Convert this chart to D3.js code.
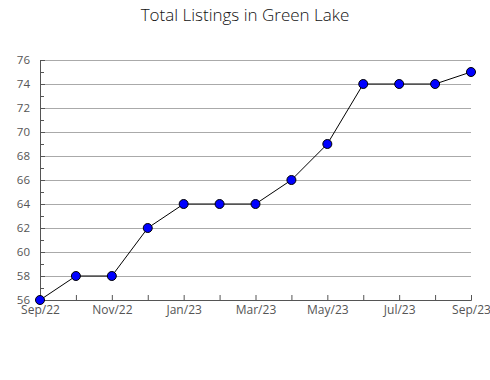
<!DOCTYPE html>
<html>
<head>
<meta charset="utf-8">
<script src="https://cdn.jsdelivr.net/npm/d3@7"></script>
<style>
  body { margin: 0; background: #fff; }
  text { font-family: "Open Sans", "Noto Sans", sans-serif; }
</style>
</head>
<body>
<svg id="chart"></svg>
<script>
const months = ['Sep/22','Oct/22','Nov/22','Dec/22','Jan/23','Feb/23','Mar/23','Apr/23','May/23','Jun/23','Jul/23','Aug/23','Sep/23'];
const listings = [56, 58, 58, 62, 64, 64, 64, 66, 69, 74, 74, 74, 75];
const yTicks = [56, 58, 60, 62, 64, 66, 68, 70, 72, 74, 76];
const yMinor = [57, 59, 61, 63, 65, 67, 69, 71, 73, 75];

const width = 490, height = 380;
const mLeft = 40, mRight = 471, mTop = 60, mBottom = 300;

const svg = d3.select('#chart').attr('width', width).attr('height', height)

const x = d3.scaleLinear().domain([0, months.length - 1]).range([mLeft, mRight])
const y = d3.scaleLinear().domain([56, 76]).range([mBottom, mTop])

// title
svg.append('text')
.attr('x', width / 2)
.attr('y', 21)
.attr('text-anchor', 'middle')
.attr('font-size', 17)
.attr('font-weight', 300)
.attr('fill', '#111')
.text('Total Listings in Green Lake')

// gridlines
svg.append('g')
.selectAll('line')
.data(yTicks.slice(1))
.enter()
.append('line')
.attr('x1', mLeft)
.attr('x2', mRight)
.attr('y1', d => y(d) + 0.5)
.attr('y2', d => y(d) + 0.5)
.attr('stroke', '#aaa')
.attr('stroke-width', 1)

// y axis
const yAxis = svg.append('g')
.attr('transform', `translate(${mLeft},0)`)
.call(d3.axisLeft(y).tickValues(yTicks).tickSize(-5).tickPadding(10).tickFormat(d3.format('d')))
yAxis.select('.domain').attr('stroke', '#555')
yAxis.selectAll('.tick line').attr('stroke', '#555')
yAxis.selectAll('text').attr('font-size', 11.5).attr('fill', '#555')

yAxis.selectAll('.minor')
.data(yMinor)
.enter()
.append('line')
.attr('class', 'minor')
.attr('x1', 0)
.attr('x2', 4)
.attr('y1', d => y(d) + 0.5)
.attr('y2', d => y(d) + 0.5)
.attr('stroke', '#555')

// x axis
const xAxis = svg.append('g')
.attr('transform', `translate(0,${mBottom})`)
.call(d3.axisBottom(x).tickValues(d3.range(months.length)).tickSize(-5).tickPadding(5)
  .tickFormat(i => i % 2 === 0 ? months[i] : ''))
xAxis.select('.domain').attr('stroke', '#555')
xAxis.selectAll('.tick line').attr('stroke', '#555')
xAxis.selectAll('text').attr('font-size', 12).attr('fill', '#555')

// line
const line = d3.line().x((d, i) => x(i)).y(d => y(d))
svg.append('path')
.datum(listings)
.attr('d', line)
.attr('fill', 'none')
.attr('stroke', '#000')
.attr('stroke-width', 1)

// points
svg.selectAll('circle.pt')
.data(listings)
.enter()
.append('circle')
.attr('class', 'pt')
.attr('cx', (d, i) => x(i))
.attr('cy', d => y(d))
.attr('r', 4.5)
.attr('fill', '#0000ff')
.attr('stroke', '#000')
.attr('stroke-width', 1)
</script>
</body>
</html>
